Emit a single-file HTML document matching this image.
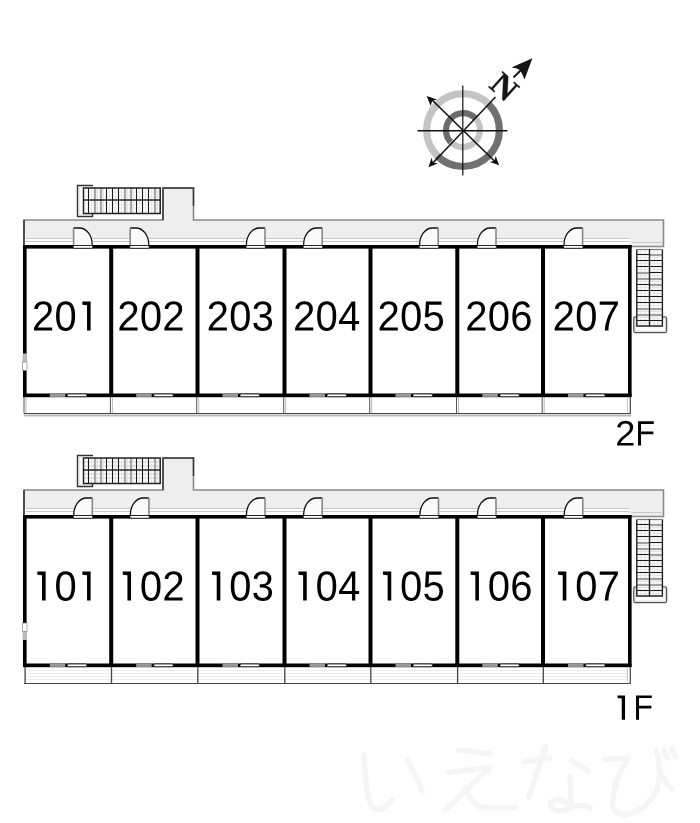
<!DOCTYPE html>
<html><head><meta charset="utf-8"><style>
html,body{margin:0;padding:0;background:#fff;}
body{width:700px;height:823px;overflow:hidden;}
svg{display:block;}
body{font-family:"Liberation Sans",sans-serif;}
</style></head><body>
<svg width="700" height="823" viewBox="0 0 700 823">
<defs><path id="g0" d="M1059 705Q1059 352 934.5 166.0Q810 -20 567 -20Q324 -20 202.0 165.0Q80 350 80 705Q80 1068 198.5 1249.0Q317 1430 573 1430Q822 1430 940.5 1247.0Q1059 1064 1059 705ZM876 705Q876 1010 805.5 1147.0Q735 1284 573 1284Q407 1284 334.5 1149.0Q262 1014 262 705Q262 405 335.5 266.0Q409 127 569 127Q728 127 802.0 269.0Q876 411 876 705Z"/><path id="g2" d="M103 0V127Q154 244 227.5 333.5Q301 423 382.0 495.5Q463 568 542.5 630.0Q622 692 686.0 754.0Q750 816 789.5 884.0Q829 952 829 1038Q829 1154 761.0 1218.0Q693 1282 572 1282Q457 1282 382.5 1219.5Q308 1157 295 1044L111 1061Q131 1230 254.5 1330.0Q378 1430 572 1430Q785 1430 899.5 1329.5Q1014 1229 1014 1044Q1014 962 976.5 881.0Q939 800 865.0 719.0Q791 638 582 468Q467 374 399.0 298.5Q331 223 301 153H1036V0Z"/><path id="g3" d="M1049 389Q1049 194 925.0 87.0Q801 -20 571 -20Q357 -20 229.5 76.5Q102 173 78 362L264 379Q300 129 571 129Q707 129 784.5 196.0Q862 263 862 395Q862 510 773.5 574.5Q685 639 518 639H416V795H514Q662 795 743.5 859.5Q825 924 825 1038Q825 1151 758.5 1216.5Q692 1282 561 1282Q442 1282 368.5 1221.0Q295 1160 283 1049L102 1063Q122 1236 245.5 1333.0Q369 1430 563 1430Q775 1430 892.5 1331.5Q1010 1233 1010 1057Q1010 922 934.5 837.5Q859 753 715 723V719Q873 702 961.0 613.0Q1049 524 1049 389Z"/><path id="g4" d="M881 319V0H711V319H47V459L692 1409H881V461H1079V319ZM711 1206Q709 1200 683.0 1153.0Q657 1106 644 1087L283 555L229 481L213 461H711Z"/><path id="g5" d="M1053 459Q1053 236 920.5 108.0Q788 -20 553 -20Q356 -20 235.0 66.0Q114 152 82 315L264 336Q321 127 557 127Q702 127 784.0 214.5Q866 302 866 455Q866 588 783.5 670.0Q701 752 561 752Q488 752 425.0 729.0Q362 706 299 651H123L170 1409H971V1256H334L307 809Q424 899 598 899Q806 899 929.5 777.0Q1053 655 1053 459Z"/><path id="g6" d="M1049 461Q1049 238 928.0 109.0Q807 -20 594 -20Q356 -20 230.0 157.0Q104 334 104 672Q104 1038 235.0 1234.0Q366 1430 608 1430Q927 1430 1010 1143L838 1112Q785 1284 606 1284Q452 1284 367.5 1140.5Q283 997 283 725Q332 816 421.0 863.5Q510 911 625 911Q820 911 934.5 789.0Q1049 667 1049 461ZM866 453Q866 606 791.0 689.0Q716 772 582 772Q456 772 378.5 698.5Q301 625 301 496Q301 333 381.5 229.0Q462 125 588 125Q718 125 792.0 212.5Q866 300 866 453Z"/><path id="g7" d="M1036 1263Q820 933 731.0 746.0Q642 559 597.5 377.0Q553 195 553 0H365Q365 270 479.5 568.5Q594 867 862 1256H105V1409H1036Z"/><path id="gF" d="M359 1253V810H1145V650H359V0H168V1409H1169V1253Z"/><path id="g1" d="M515 0V1235L275 1255V1409H700V0Z"/></defs>
<rect width="700" height="823" fill="#fff"/>
<path d="M24 220 H163 V188 H193 V220 H663.5 V246.5 H24 Z" fill="#eeeeee"/>
<rect x="25" y="238" width="604" height="7" fill="#fff"/>
<path d="M24 246 V220 H163 V188 H193.5 V220 H663.5 V246.5 H630" fill="none" stroke="#8a8a8a" stroke-width="1.6"/>
<path d="M24 246 V220" stroke="#222" stroke-width="1.3"/>
<path d="M163 220 V188 H193.5 V206" fill="none" stroke="#3a3a3a" stroke-width="1.5"/>
<path d="M26 238.5 H629 M26 241.5 H629" stroke="#c8c8c8" stroke-width="1"/>
<path d="M93 185.5 H77.5 V216.5 H92.5 V213.5" fill="none" stroke="#333" stroke-width="1.4"/>
<path d="M92 187 H79 V215 H91" fill="none" stroke="#d0d0d0" stroke-width="0.9"/>
<rect x="83.5" y="188" width="76.7" height="25.5" fill="#fff"/>
<path d="M84.5 192 H159.5" stroke="#eeeeee" stroke-width="1"/>
<path d="M84.5 196 H159.5" stroke="#eeeeee" stroke-width="1"/>
<path d="M84.5 204 H159.5" stroke="#eeeeee" stroke-width="1"/>
<path d="M84.5 208 H159.5" stroke="#eeeeee" stroke-width="1"/>
<path d="M91.5 188 V213.5" stroke="#e6e6e6" stroke-width="1"/>
<path d="M88.5 188 V213.5" stroke="#1a1a1a" stroke-width="1.1"/>
<path d="M97.5 188 V213.5" stroke="#e6e6e6" stroke-width="1"/>
<path d="M95.0 188 V213.5" stroke="#a8a8a8" stroke-width="2.4"/>
<path d="M103.5 188 V213.5" stroke="#e6e6e6" stroke-width="1"/>
<path d="M101.0 188 V213.5" stroke="#a8a8a8" stroke-width="2.4"/>
<path d="M109.5 188 V213.5" stroke="#e6e6e6" stroke-width="1"/>
<path d="M106.5 188 V213.5" stroke="#1a1a1a" stroke-width="1.1"/>
<path d="M115.5 188 V213.5" stroke="#e6e6e6" stroke-width="1"/>
<path d="M112.5 188 V213.5" stroke="#1a1a1a" stroke-width="1.1"/>
<path d="M121.5 188 V213.5" stroke="#e6e6e6" stroke-width="1"/>
<path d="M118.5 188 V213.5" stroke="#1a1a1a" stroke-width="1.1"/>
<path d="M127.5 188 V213.5" stroke="#e6e6e6" stroke-width="1"/>
<path d="M125.0 188 V213.5" stroke="#a8a8a8" stroke-width="2.4"/>
<path d="M133.5 188 V213.5" stroke="#e6e6e6" stroke-width="1"/>
<path d="M131.0 188 V213.5" stroke="#a8a8a8" stroke-width="2.4"/>
<path d="M139.5 188 V213.5" stroke="#e6e6e6" stroke-width="1"/>
<path d="M136.5 188 V213.5" stroke="#1a1a1a" stroke-width="1.1"/>
<path d="M145.5 188 V213.5" stroke="#e6e6e6" stroke-width="1"/>
<path d="M142.5 188 V213.5" stroke="#1a1a1a" stroke-width="1.1"/>
<path d="M151.5 188 V213.5" stroke="#e6e6e6" stroke-width="1"/>
<path d="M148.5 188 V213.5" stroke="#1a1a1a" stroke-width="1.1"/>
<path d="M157.5 188 V213.5" stroke="#e6e6e6" stroke-width="1"/>
<path d="M155.0 188 V213.5" stroke="#a8a8a8" stroke-width="2.4"/>
<rect x="83.5" y="188" width="76.7" height="25.5" fill="none" stroke="#222" stroke-width="1.5"/>
<path d="M83.5 200 H160.5" stroke="#222" stroke-width="1.6"/>
<rect x="24" y="245" width="606" height="152" fill="#fff"/>
<rect x="23" y="245" width="608.5" height="3.6" fill="#000"/>
<rect x="23" y="393.5" width="608.5" height="3.7" fill="#000"/>
<rect x="23.0" y="245" width="3.6" height="152" fill="#000"/>
<rect x="109.2" y="245" width="4.0" height="152" fill="#000"/>
<rect x="195.5" y="245" width="4.0" height="152" fill="#000"/>
<rect x="282.5" y="245" width="4.0" height="152" fill="#000"/>
<rect x="368.5" y="245" width="4.0" height="152" fill="#000"/>
<rect x="455.3" y="245" width="4.0" height="152" fill="#000"/>
<rect x="541.0" y="245" width="4.0" height="152" fill="#000"/>
<rect x="628.0" y="245" width="3.6" height="152" fill="#000"/>
<rect x="22.6" y="353.5" width="4.4" height="8.5" fill="#bbb"/>
<rect x="22.6" y="362" width="4.4" height="8.5" fill="#fff" stroke="#777" stroke-width=".6"/>
<rect x="73.3" y="245.5" width="19.2" height="2.8" rx="0.8" fill="#fff" stroke="#1a1a1a" stroke-width=".9"/>
<path d="M73.6 228.0 H79.4 A12.8 17.0 0 0 1 92.2 245 L73.6 245 Z" fill="#fafafa"/>
<path d="M73.6 228.0 H79.4 A12.8 17.0 0 0 1 92.2 245" fill="none" stroke="#111" stroke-width="1.3"/>
<path d="M73.6 245 V228.0" stroke="#888" stroke-width="1.6"/>
<rect x="49.8" y="393.8" width="15.5" height="3.1" fill="#999"/>
<rect x="67.3" y="394.0" width="19.5" height="2.7" rx="1.3" fill="#fff" stroke="#111" stroke-width=".8"/>
<path d="M24.0 397 V413.5" stroke="#555" stroke-width="1"/>
<path d="M26.0 397 V413" stroke="#bbb" stroke-width="1"/>
<rect x="129.9" y="245.5" width="19.2" height="2.8" rx="0.8" fill="#fff" stroke="#1a1a1a" stroke-width=".9"/>
<path d="M130.2 228.0 H136.0 A12.8 17.0 0 0 1 148.8 245 L130.2 245 Z" fill="#fafafa"/>
<path d="M130.2 228.0 H136.0 A12.8 17.0 0 0 1 148.8 245" fill="none" stroke="#111" stroke-width="1.3"/>
<path d="M130.2 245 V228.0" stroke="#888" stroke-width="1.6"/>
<rect x="136.2" y="393.8" width="15.5" height="3.1" fill="#999"/>
<rect x="153.7" y="394.0" width="19.5" height="2.7" rx="1.3" fill="#fff" stroke="#111" stroke-width=".8"/>
<path d="M110.4 397 V413.5" stroke="#555" stroke-width="1"/>
<path d="M112.4 397 V413" stroke="#bbb" stroke-width="1"/>
<rect x="246.1" y="245.5" width="19.2" height="2.8" rx="0.8" fill="#fff" stroke="#1a1a1a" stroke-width=".9"/>
<path d="M265.0 228.0 H259.2 A12.8 17.0 0 0 0 246.4 245 L265.0 245 Z" fill="#fafafa"/>
<path d="M265.0 228.0 H259.2 A12.8 17.0 0 0 0 246.4 245" fill="none" stroke="#111" stroke-width="1.3"/>
<path d="M265.0 245 V228.0" stroke="#888" stroke-width="1.6"/>
<rect x="222.5" y="393.8" width="15.5" height="3.1" fill="#999"/>
<rect x="240.0" y="394.0" width="19.5" height="2.7" rx="1.3" fill="#fff" stroke="#111" stroke-width=".8"/>
<path d="M196.7 397 V413.5" stroke="#555" stroke-width="1"/>
<path d="M198.7 397 V413" stroke="#bbb" stroke-width="1"/>
<rect x="303.3" y="245.5" width="19.2" height="2.8" rx="0.8" fill="#fff" stroke="#1a1a1a" stroke-width=".9"/>
<path d="M322.2 228.0 H316.4 A12.8 17.0 0 0 0 303.6 245 L322.2 245 Z" fill="#fafafa"/>
<path d="M322.2 228.0 H316.4 A12.8 17.0 0 0 0 303.6 245" fill="none" stroke="#111" stroke-width="1.3"/>
<path d="M322.2 245 V228.0" stroke="#888" stroke-width="1.6"/>
<rect x="309.5" y="393.8" width="15.5" height="3.1" fill="#999"/>
<rect x="327.0" y="394.0" width="19.5" height="2.7" rx="1.3" fill="#fff" stroke="#111" stroke-width=".8"/>
<path d="M283.7 397 V413.5" stroke="#555" stroke-width="1"/>
<path d="M285.7 397 V413" stroke="#bbb" stroke-width="1"/>
<rect x="419.3" y="245.5" width="19.2" height="2.8" rx="0.8" fill="#fff" stroke="#1a1a1a" stroke-width=".9"/>
<path d="M438.2 228.0 H432.4 A12.8 17.0 0 0 0 419.6 245 L438.2 245 Z" fill="#fafafa"/>
<path d="M438.2 228.0 H432.4 A12.8 17.0 0 0 0 419.6 245" fill="none" stroke="#111" stroke-width="1.3"/>
<path d="M438.2 245 V228.0" stroke="#888" stroke-width="1.6"/>
<rect x="395.5" y="393.8" width="15.5" height="3.1" fill="#999"/>
<rect x="413.0" y="394.0" width="19.5" height="2.7" rx="1.3" fill="#fff" stroke="#111" stroke-width=".8"/>
<path d="M369.7 397 V413.5" stroke="#555" stroke-width="1"/>
<path d="M371.7 397 V413" stroke="#bbb" stroke-width="1"/>
<rect x="477.1" y="245.5" width="19.2" height="2.8" rx="0.8" fill="#fff" stroke="#1a1a1a" stroke-width=".9"/>
<path d="M496.0 228.0 H490.2 A12.8 17.0 0 0 0 477.4 245 L496.0 245 Z" fill="#fafafa"/>
<path d="M496.0 228.0 H490.2 A12.8 17.0 0 0 0 477.4 245" fill="none" stroke="#111" stroke-width="1.3"/>
<path d="M496.0 245 V228.0" stroke="#888" stroke-width="1.6"/>
<rect x="482.3" y="393.8" width="15.5" height="3.1" fill="#999"/>
<rect x="499.8" y="394.0" width="19.5" height="2.7" rx="1.3" fill="#fff" stroke="#111" stroke-width=".8"/>
<path d="M456.5 397 V413.5" stroke="#555" stroke-width="1"/>
<path d="M458.5 397 V413" stroke="#bbb" stroke-width="1"/>
<rect x="563.7" y="245.5" width="19.2" height="2.8" rx="0.8" fill="#fff" stroke="#1a1a1a" stroke-width=".9"/>
<path d="M582.6 228.0 H576.8 A12.8 17.0 0 0 0 564.0 245 L582.6 245 Z" fill="#fafafa"/>
<path d="M582.6 228.0 H576.8 A12.8 17.0 0 0 0 564.0 245" fill="none" stroke="#111" stroke-width="1.3"/>
<path d="M582.6 245 V228.0" stroke="#888" stroke-width="1.6"/>
<rect x="568.0" y="393.8" width="15.5" height="3.1" fill="#999"/>
<rect x="585.5" y="394.0" width="19.5" height="2.7" rx="1.3" fill="#fff" stroke="#111" stroke-width=".8"/>
<path d="M542.2 397 V413.5" stroke="#555" stroke-width="1"/>
<path d="M544.2 397 V413" stroke="#bbb" stroke-width="1"/>
<path d="M630.3 397 V413.8" stroke="#333" stroke-width="1.1"/>
<path d="M627.3 397 V412.5" stroke="#c8c8c8" stroke-width="1"/>
<path d="M24 413.5 H630.8" stroke="#474747" stroke-width="1.2"/>
<path d="M24 415.5 H631" stroke="#b8b8b8" stroke-width="2"/>
<rect x="633.8" y="316.8" width="32.8" height="15.8" rx="1.5" fill="#fff" stroke="#555" stroke-width="1.3"/>
<rect x="635.2" y="318.2" width="30" height="13" fill="none" stroke="#ccc" stroke-width=".8"/>
<path d="M631.5 242.5 H663" stroke="#c8c8c8" stroke-width="1"/>
<rect x="636.8" y="249.5" width="25.6" height="76.5" fill="#fff"/>
<path d="M641 250 V325.5" stroke="#e2e2e2" stroke-width="1"/>
<path d="M645 250 V325.5" stroke="#e2e2e2" stroke-width="1"/>
<path d="M654 250 V325.5" stroke="#e2e2e2" stroke-width="1"/>
<path d="M658 250 V325.5" stroke="#e2e2e2" stroke-width="1"/>
<path d="M637 257.5 H662" stroke="#e4e4e4" stroke-width="1"/>
<path d="M636.8 254.5 H649.5" stroke="#1a1a1a" stroke-width="1.1"/>
<path d="M649.5 255.0 H662.4" stroke="#a0a0a0" stroke-width="2.2"/>
<path d="M637 263.5 H662" stroke="#e4e4e4" stroke-width="1"/>
<path d="M636.8 260.5 H649.5" stroke="#1a1a1a" stroke-width="1.1"/>
<path d="M649.5 260.5 H662.4" stroke="#1a1a1a" stroke-width="1.1"/>
<path d="M637 269.5 H662" stroke="#e4e4e4" stroke-width="1"/>
<path d="M636.8 266.5 H649.5" stroke="#1a1a1a" stroke-width="1.1"/>
<path d="M649.5 266.5 H662.4" stroke="#1a1a1a" stroke-width="1.1"/>
<path d="M637 275.5 H662" stroke="#e4e4e4" stroke-width="1"/>
<path d="M636.8 273.0 H649.5" stroke="#a0a0a0" stroke-width="2.2"/>
<path d="M649.5 272.5 H662.4" stroke="#1a1a1a" stroke-width="1.1"/>
<path d="M637 281.5 H662" stroke="#e4e4e4" stroke-width="1"/>
<path d="M636.8 279.0 H649.5" stroke="#a0a0a0" stroke-width="2.2"/>
<path d="M649.5 279.0 H662.4" stroke="#a0a0a0" stroke-width="2.2"/>
<path d="M637 287.5 H662" stroke="#e4e4e4" stroke-width="1"/>
<path d="M636.8 284.5 H649.5" stroke="#1a1a1a" stroke-width="1.1"/>
<path d="M649.5 285.0 H662.4" stroke="#a0a0a0" stroke-width="2.2"/>
<path d="M637 293.5 H662" stroke="#e4e4e4" stroke-width="1"/>
<path d="M636.8 290.5 H649.5" stroke="#1a1a1a" stroke-width="1.1"/>
<path d="M649.5 290.5 H662.4" stroke="#1a1a1a" stroke-width="1.1"/>
<path d="M637 299.5 H662" stroke="#e4e4e4" stroke-width="1"/>
<path d="M636.8 296.5 H649.5" stroke="#1a1a1a" stroke-width="1.1"/>
<path d="M649.5 296.5 H662.4" stroke="#1a1a1a" stroke-width="1.1"/>
<path d="M637 305.5 H662" stroke="#e4e4e4" stroke-width="1"/>
<path d="M636.8 302.5 H649.5" stroke="#1a1a1a" stroke-width="1.1"/>
<path d="M649.5 302.5 H662.4" stroke="#1a1a1a" stroke-width="1.1"/>
<path d="M637 311.5 H662" stroke="#e4e4e4" stroke-width="1"/>
<path d="M636.8 309.0 H649.5" stroke="#a0a0a0" stroke-width="2.2"/>
<path d="M649.5 309.0 H662.4" stroke="#a0a0a0" stroke-width="2.2"/>
<path d="M637 317.5 H662" stroke="#e4e4e4" stroke-width="1"/>
<path d="M636.8 315.0 H649.5" stroke="#a0a0a0" stroke-width="2.2"/>
<path d="M649.5 315.0 H662.4" stroke="#a0a0a0" stroke-width="2.2"/>
<path d="M637 323.5 H662" stroke="#e4e4e4" stroke-width="1"/>
<path d="M636.8 320.5 H649.5" stroke="#1a1a1a" stroke-width="1.1"/>
<path d="M649.5 320.5 H662.4" stroke="#1a1a1a" stroke-width="1.1"/>
<path d="M636.8 249.5 V326 H662.4 V249.5" fill="none" stroke="#222" stroke-width="1.4"/>
<path d="M636.8 249.5 H662.4" stroke="#777" stroke-width="1.2"/>
<path d="M649.5 249 V326.2" stroke="#222" stroke-width="1.4"/>
<use href="#g2" transform="translate(31.99 330.6) scale(0.0195 -0.0206)"/><use href="#g0" transform="translate(54.49 330.6) scale(0.0195 -0.0206)"/><use href="#g1" transform="translate(76.99 330.6) scale(0.0195 -0.0206)"/>
<use href="#g2" transform="translate(117.39 330.6) scale(0.0195 -0.0206)"/><use href="#g0" transform="translate(139.89 330.6) scale(0.0195 -0.0206)"/><use href="#g2" transform="translate(162.39 330.6) scale(0.0195 -0.0206)"/>
<use href="#g2" transform="translate(206.69 330.6) scale(0.0195 -0.0206)"/><use href="#g0" transform="translate(229.19 330.6) scale(0.0195 -0.0206)"/><use href="#g3" transform="translate(251.69 330.6) scale(0.0195 -0.0206)"/>
<use href="#g2" transform="translate(293.09 330.6) scale(0.0195 -0.0206)"/><use href="#g0" transform="translate(315.59 330.6) scale(0.0195 -0.0206)"/><use href="#g4" transform="translate(338.09 330.6) scale(0.0195 -0.0206)"/>
<use href="#g2" transform="translate(377.59 330.6) scale(0.0195 -0.0206)"/><use href="#g0" transform="translate(400.09 330.6) scale(0.0195 -0.0206)"/><use href="#g5" transform="translate(422.59 330.6) scale(0.0195 -0.0206)"/>
<use href="#g2" transform="translate(465.29 330.6) scale(0.0195 -0.0206)"/><use href="#g0" transform="translate(487.79 330.6) scale(0.0195 -0.0206)"/><use href="#g6" transform="translate(510.29 330.6) scale(0.0195 -0.0206)"/>
<use href="#g2" transform="translate(552.69 330.6) scale(0.0195 -0.0206)"/><use href="#g0" transform="translate(575.19 330.6) scale(0.0195 -0.0206)"/><use href="#g7" transform="translate(597.69 330.6) scale(0.0195 -0.0206)"/>
<use href="#g2" transform="translate(615.30 445.6) scale(0.0176 -0.0173)"/><use href="#gF" transform="translate(635.40 445.6) scale(0.0157 -0.0173)"/>
<path d="M24 490 H163 V458 H193 V490 H663.5 V516.5 H24 Z" fill="#eeeeee"/>
<rect x="25" y="508" width="604" height="7" fill="#fff"/>
<path d="M24 516 V490 H163 V458 H193.5 V490 H663.5 V516.5 H630" fill="none" stroke="#8a8a8a" stroke-width="1.6"/>
<path d="M24 516 V490" stroke="#222" stroke-width="1.3"/>
<path d="M163 490 V458 H193.5 V476" fill="none" stroke="#3a3a3a" stroke-width="1.5"/>
<path d="M26 508.5 H629 M26 511.5 H629" stroke="#c8c8c8" stroke-width="1"/>
<path d="M93 455.5 H77.5 V486.5 H92.5 V483.5" fill="none" stroke="#333" stroke-width="1.4"/>
<path d="M92 457 H79 V485 H91" fill="none" stroke="#d0d0d0" stroke-width="0.9"/>
<rect x="83.5" y="458" width="76.7" height="25.5" fill="#fff"/>
<path d="M84.5 462 H159.5" stroke="#cfcfcf" stroke-width="1"/>
<path d="M84.5 466 H159.5" stroke="#cfcfcf" stroke-width="1"/>
<path d="M84.5 474 H159.5" stroke="#cfcfcf" stroke-width="1"/>
<path d="M84.5 478 H159.5" stroke="#cfcfcf" stroke-width="1"/>
<path d="M91.5 458 V483.5" stroke="#e6e6e6" stroke-width="1"/>
<path d="M88.5 458 V483.5" stroke="#1a1a1a" stroke-width="1.1"/>
<path d="M97.5 458 V483.5" stroke="#e6e6e6" stroke-width="1"/>
<path d="M95.0 458 V483.5" stroke="#a8a8a8" stroke-width="2.4"/>
<path d="M103.5 458 V483.5" stroke="#e6e6e6" stroke-width="1"/>
<path d="M101.0 458 V483.5" stroke="#a8a8a8" stroke-width="2.4"/>
<path d="M109.5 458 V483.5" stroke="#e6e6e6" stroke-width="1"/>
<path d="M106.5 458 V483.5" stroke="#1a1a1a" stroke-width="1.1"/>
<path d="M115.5 458 V483.5" stroke="#e6e6e6" stroke-width="1"/>
<path d="M112.5 458 V483.5" stroke="#1a1a1a" stroke-width="1.1"/>
<path d="M121.5 458 V483.5" stroke="#e6e6e6" stroke-width="1"/>
<path d="M118.5 458 V483.5" stroke="#1a1a1a" stroke-width="1.1"/>
<path d="M127.5 458 V483.5" stroke="#e6e6e6" stroke-width="1"/>
<path d="M125.0 458 V483.5" stroke="#a8a8a8" stroke-width="2.4"/>
<path d="M133.5 458 V483.5" stroke="#e6e6e6" stroke-width="1"/>
<path d="M131.0 458 V483.5" stroke="#a8a8a8" stroke-width="2.4"/>
<path d="M139.5 458 V483.5" stroke="#e6e6e6" stroke-width="1"/>
<path d="M136.5 458 V483.5" stroke="#1a1a1a" stroke-width="1.1"/>
<path d="M145.5 458 V483.5" stroke="#e6e6e6" stroke-width="1"/>
<path d="M142.5 458 V483.5" stroke="#1a1a1a" stroke-width="1.1"/>
<path d="M151.5 458 V483.5" stroke="#e6e6e6" stroke-width="1"/>
<path d="M148.5 458 V483.5" stroke="#1a1a1a" stroke-width="1.1"/>
<path d="M157.5 458 V483.5" stroke="#e6e6e6" stroke-width="1"/>
<path d="M155.0 458 V483.5" stroke="#a8a8a8" stroke-width="2.4"/>
<rect x="83.5" y="458" width="76.7" height="25.5" fill="none" stroke="#222" stroke-width="1.5"/>
<path d="M83.5 470 H160.5" stroke="#222" stroke-width="1.6"/>
<path d="M26 670.5 H628 M26 673.5 H628 M26 676.5 H628 M26 679.5 H628" stroke="#ebebeb" stroke-width="1"/>
<rect x="24" y="515" width="606" height="152" fill="#fff"/>
<rect x="23" y="515" width="608.5" height="3.6" fill="#000"/>
<rect x="23" y="663.5" width="608.5" height="3.7" fill="#000"/>
<rect x="23.0" y="515" width="3.6" height="152" fill="#000"/>
<rect x="109.2" y="515" width="4.0" height="152" fill="#000"/>
<rect x="195.5" y="515" width="4.0" height="152" fill="#000"/>
<rect x="282.5" y="515" width="4.0" height="152" fill="#000"/>
<rect x="368.5" y="515" width="4.0" height="152" fill="#000"/>
<rect x="455.3" y="515" width="4.0" height="152" fill="#000"/>
<rect x="541.0" y="515" width="4.0" height="152" fill="#000"/>
<rect x="628.0" y="515" width="3.6" height="152" fill="#000"/>
<rect x="22.6" y="623" width="4.4" height="8.5" fill="#fff" stroke="#777" stroke-width=".6"/>
<rect x="22.6" y="631.5" width="4.4" height="8.5" fill="#bbb"/>
<rect x="73.4" y="515.5" width="19.2" height="2.8" rx="0.8" fill="#fff" stroke="#1a1a1a" stroke-width=".9"/>
<path d="M92.3 498.0 H86.5 A12.8 17.0 0 0 0 73.7 515 L92.3 515 Z" fill="#fafafa"/>
<path d="M92.3 498.0 H86.5 A12.8 17.0 0 0 0 73.7 515" fill="none" stroke="#111" stroke-width="1.3"/>
<path d="M92.3 515 V498.0" stroke="#888" stroke-width="1.6"/>
<rect x="49.8" y="663.8" width="15.5" height="3.1" fill="#999"/>
<rect x="67.3" y="664.0" width="19.5" height="2.7" rx="1.3" fill="#fff" stroke="#111" stroke-width=".8"/>
<path d="M25.1 667 V683.5" stroke="#444" stroke-width="1.3"/>
<rect x="130.0" y="515.5" width="19.2" height="2.8" rx="0.8" fill="#fff" stroke="#1a1a1a" stroke-width=".9"/>
<path d="M148.9 498.0 H143.1 A12.8 17.0 0 0 0 130.3 515 L148.9 515 Z" fill="#fafafa"/>
<path d="M148.9 498.0 H143.1 A12.8 17.0 0 0 0 130.3 515" fill="none" stroke="#111" stroke-width="1.3"/>
<path d="M148.9 515 V498.0" stroke="#888" stroke-width="1.6"/>
<rect x="136.2" y="663.8" width="15.5" height="3.1" fill="#999"/>
<rect x="153.7" y="664.0" width="19.5" height="2.7" rx="1.3" fill="#fff" stroke="#111" stroke-width=".8"/>
<path d="M111.5 667 V683.5" stroke="#444" stroke-width="1.3"/>
<rect x="246.1" y="515.5" width="19.2" height="2.8" rx="0.8" fill="#fff" stroke="#1a1a1a" stroke-width=".9"/>
<path d="M265.0 498.0 H259.2 A12.8 17.0 0 0 0 246.4 515 L265.0 515 Z" fill="#fafafa"/>
<path d="M265.0 498.0 H259.2 A12.8 17.0 0 0 0 246.4 515" fill="none" stroke="#111" stroke-width="1.3"/>
<path d="M265.0 515 V498.0" stroke="#888" stroke-width="1.6"/>
<rect x="222.5" y="663.8" width="15.5" height="3.1" fill="#999"/>
<rect x="240.0" y="664.0" width="19.5" height="2.7" rx="1.3" fill="#fff" stroke="#111" stroke-width=".8"/>
<path d="M197.8 667 V683.5" stroke="#444" stroke-width="1.3"/>
<rect x="303.3" y="515.5" width="19.2" height="2.8" rx="0.8" fill="#fff" stroke="#1a1a1a" stroke-width=".9"/>
<path d="M322.2 498.0 H316.4 A12.8 17.0 0 0 0 303.6 515 L322.2 515 Z" fill="#fafafa"/>
<path d="M322.2 498.0 H316.4 A12.8 17.0 0 0 0 303.6 515" fill="none" stroke="#111" stroke-width="1.3"/>
<path d="M322.2 515 V498.0" stroke="#888" stroke-width="1.6"/>
<rect x="309.5" y="663.8" width="15.5" height="3.1" fill="#999"/>
<rect x="327.0" y="664.0" width="19.5" height="2.7" rx="1.3" fill="#fff" stroke="#111" stroke-width=".8"/>
<path d="M284.8 667 V683.5" stroke="#444" stroke-width="1.3"/>
<rect x="419.6" y="515.5" width="19.2" height="2.8" rx="0.8" fill="#fff" stroke="#1a1a1a" stroke-width=".9"/>
<path d="M438.5 498.0 H432.7 A12.8 17.0 0 0 0 419.9 515 L438.5 515 Z" fill="#fafafa"/>
<path d="M438.5 498.0 H432.7 A12.8 17.0 0 0 0 419.9 515" fill="none" stroke="#111" stroke-width="1.3"/>
<path d="M438.5 515 V498.0" stroke="#888" stroke-width="1.6"/>
<rect x="395.5" y="663.8" width="15.5" height="3.1" fill="#999"/>
<rect x="413.0" y="664.0" width="19.5" height="2.7" rx="1.3" fill="#fff" stroke="#111" stroke-width=".8"/>
<path d="M370.8 667 V683.5" stroke="#444" stroke-width="1.3"/>
<rect x="477.1" y="515.5" width="19.2" height="2.8" rx="0.8" fill="#fff" stroke="#1a1a1a" stroke-width=".9"/>
<path d="M496.0 498.0 H490.2 A12.8 17.0 0 0 0 477.4 515 L496.0 515 Z" fill="#fafafa"/>
<path d="M496.0 498.0 H490.2 A12.8 17.0 0 0 0 477.4 515" fill="none" stroke="#111" stroke-width="1.3"/>
<path d="M496.0 515 V498.0" stroke="#888" stroke-width="1.6"/>
<rect x="482.3" y="663.8" width="15.5" height="3.1" fill="#999"/>
<rect x="499.8" y="664.0" width="19.5" height="2.7" rx="1.3" fill="#fff" stroke="#111" stroke-width=".8"/>
<path d="M457.6 667 V683.5" stroke="#444" stroke-width="1.3"/>
<rect x="563.9" y="515.5" width="19.2" height="2.8" rx="0.8" fill="#fff" stroke="#1a1a1a" stroke-width=".9"/>
<path d="M582.8 498.0 H577.0 A12.8 17.0 0 0 0 564.2 515 L582.8 515 Z" fill="#fafafa"/>
<path d="M582.8 498.0 H577.0 A12.8 17.0 0 0 0 564.2 515" fill="none" stroke="#111" stroke-width="1.3"/>
<path d="M582.8 515 V498.0" stroke="#888" stroke-width="1.6"/>
<rect x="568.0" y="663.8" width="15.5" height="3.1" fill="#999"/>
<rect x="585.5" y="664.0" width="19.5" height="2.7" rx="1.3" fill="#fff" stroke="#111" stroke-width=".8"/>
<path d="M543.3 667 V683.5" stroke="#444" stroke-width="1.3"/>
<path d="M630.3 667 V683.8" stroke="#333" stroke-width="1.1"/>
<path d="M627.3 667 V682.5" stroke="#c8c8c8" stroke-width="1"/>
<path d="M24 683.5 H630.8" stroke="#474747" stroke-width="1.2"/>
<rect x="633.8" y="586.8" width="32.8" height="15.8" rx="1.5" fill="#fff" stroke="#555" stroke-width="1.3"/>
<rect x="635.2" y="588.2" width="30" height="13" fill="none" stroke="#ccc" stroke-width=".8"/>
<path d="M631.5 512.5 H663" stroke="#c8c8c8" stroke-width="1"/>
<rect x="636.8" y="519.5" width="25.6" height="76.5" fill="#fff"/>
<path d="M641 520 V595.5" stroke="#e2e2e2" stroke-width="1"/>
<path d="M645 520 V595.5" stroke="#e2e2e2" stroke-width="1"/>
<path d="M654 520 V595.5" stroke="#e2e2e2" stroke-width="1"/>
<path d="M658 520 V595.5" stroke="#e2e2e2" stroke-width="1"/>
<path d="M637 527.5 H662" stroke="#e4e4e4" stroke-width="1"/>
<path d="M636.8 524.5 H649.5" stroke="#1a1a1a" stroke-width="1.1"/>
<path d="M649.5 525.0 H662.4" stroke="#a0a0a0" stroke-width="2.2"/>
<path d="M637 533.5 H662" stroke="#e4e4e4" stroke-width="1"/>
<path d="M636.8 530.5 H649.5" stroke="#1a1a1a" stroke-width="1.1"/>
<path d="M649.5 530.5 H662.4" stroke="#1a1a1a" stroke-width="1.1"/>
<path d="M637 539.5 H662" stroke="#e4e4e4" stroke-width="1"/>
<path d="M636.8 536.5 H649.5" stroke="#1a1a1a" stroke-width="1.1"/>
<path d="M649.5 536.5 H662.4" stroke="#1a1a1a" stroke-width="1.1"/>
<path d="M637 545.5 H662" stroke="#e4e4e4" stroke-width="1"/>
<path d="M636.8 543.0 H649.5" stroke="#a0a0a0" stroke-width="2.2"/>
<path d="M649.5 542.5 H662.4" stroke="#1a1a1a" stroke-width="1.1"/>
<path d="M637 551.5 H662" stroke="#e4e4e4" stroke-width="1"/>
<path d="M636.8 549.0 H649.5" stroke="#a0a0a0" stroke-width="2.2"/>
<path d="M649.5 549.0 H662.4" stroke="#a0a0a0" stroke-width="2.2"/>
<path d="M637 557.5 H662" stroke="#e4e4e4" stroke-width="1"/>
<path d="M636.8 554.5 H649.5" stroke="#1a1a1a" stroke-width="1.1"/>
<path d="M649.5 555.0 H662.4" stroke="#a0a0a0" stroke-width="2.2"/>
<path d="M637 563.5 H662" stroke="#e4e4e4" stroke-width="1"/>
<path d="M636.8 560.5 H649.5" stroke="#1a1a1a" stroke-width="1.1"/>
<path d="M649.5 560.5 H662.4" stroke="#1a1a1a" stroke-width="1.1"/>
<path d="M637 569.5 H662" stroke="#e4e4e4" stroke-width="1"/>
<path d="M636.8 566.5 H649.5" stroke="#1a1a1a" stroke-width="1.1"/>
<path d="M649.5 566.5 H662.4" stroke="#1a1a1a" stroke-width="1.1"/>
<path d="M637 575.5 H662" stroke="#e4e4e4" stroke-width="1"/>
<path d="M636.8 572.5 H649.5" stroke="#1a1a1a" stroke-width="1.1"/>
<path d="M649.5 572.5 H662.4" stroke="#1a1a1a" stroke-width="1.1"/>
<path d="M637 581.5 H662" stroke="#e4e4e4" stroke-width="1"/>
<path d="M636.8 579.0 H649.5" stroke="#a0a0a0" stroke-width="2.2"/>
<path d="M649.5 579.0 H662.4" stroke="#a0a0a0" stroke-width="2.2"/>
<path d="M637 587.5 H662" stroke="#e4e4e4" stroke-width="1"/>
<path d="M636.8 585.0 H649.5" stroke="#a0a0a0" stroke-width="2.2"/>
<path d="M649.5 585.0 H662.4" stroke="#a0a0a0" stroke-width="2.2"/>
<path d="M637 593.5 H662" stroke="#e4e4e4" stroke-width="1"/>
<path d="M636.8 590.5 H649.5" stroke="#1a1a1a" stroke-width="1.1"/>
<path d="M649.5 590.5 H662.4" stroke="#1a1a1a" stroke-width="1.1"/>
<path d="M636.8 519.5 V596 H662.4 V519.5" fill="none" stroke="#222" stroke-width="1.4"/>
<path d="M636.8 519.5 H662.4" stroke="#777" stroke-width="1.2"/>
<path d="M649.5 519 V596.2" stroke="#222" stroke-width="1.4"/>
<use href="#g1" transform="translate(31.99 600.6) scale(0.0195 -0.0206)"/><use href="#g0" transform="translate(54.49 600.6) scale(0.0195 -0.0206)"/><use href="#g1" transform="translate(76.99 600.6) scale(0.0195 -0.0206)"/>
<use href="#g1" transform="translate(117.39 600.6) scale(0.0195 -0.0206)"/><use href="#g0" transform="translate(139.89 600.6) scale(0.0195 -0.0206)"/><use href="#g2" transform="translate(162.39 600.6) scale(0.0195 -0.0206)"/>
<use href="#g1" transform="translate(206.69 600.6) scale(0.0195 -0.0206)"/><use href="#g0" transform="translate(229.19 600.6) scale(0.0195 -0.0206)"/><use href="#g3" transform="translate(251.69 600.6) scale(0.0195 -0.0206)"/>
<use href="#g1" transform="translate(293.09 600.6) scale(0.0195 -0.0206)"/><use href="#g0" transform="translate(315.59 600.6) scale(0.0195 -0.0206)"/><use href="#g4" transform="translate(338.09 600.6) scale(0.0195 -0.0206)"/>
<use href="#g1" transform="translate(377.59 600.6) scale(0.0195 -0.0206)"/><use href="#g0" transform="translate(400.09 600.6) scale(0.0195 -0.0206)"/><use href="#g5" transform="translate(422.59 600.6) scale(0.0195 -0.0206)"/>
<use href="#g1" transform="translate(465.29 600.6) scale(0.0195 -0.0206)"/><use href="#g0" transform="translate(487.79 600.6) scale(0.0195 -0.0206)"/><use href="#g6" transform="translate(510.29 600.6) scale(0.0195 -0.0206)"/>
<use href="#g1" transform="translate(552.69 600.6) scale(0.0195 -0.0206)"/><use href="#g0" transform="translate(575.19 600.6) scale(0.0195 -0.0206)"/><use href="#g7" transform="translate(597.69 600.6) scale(0.0195 -0.0206)"/>
<use href="#g1" transform="translate(612.70 719.8) scale(0.0176 -0.0173)"/><use href="#gF" transform="translate(633.40 719.8) scale(0.0157 -0.0173)"/>
<g>
<path d="M488.74 104.36 A36.4 36.4 0 0 0 437.26 155.84" fill="none" stroke="#c4c4c4" stroke-width="7.200000000000003"/>
<path d="M437.26 155.84 A36.4 36.4 0 0 0 488.74 104.36" fill="none" stroke="#707070" stroke-width="7.200000000000003"/>
<path d="M475.16 117.94 A17.2 17.2 0 0 0 450.84 142.26" fill="none" stroke="#6c6c6c" stroke-width="6.200000000000001"/>
<path d="M450.84 142.26 A17.2 17.2 0 0 0 475.16 117.94" fill="none" stroke="#c4c4c4" stroke-width="6.200000000000001"/>
<path d="M462.8 85.5 V175.5" stroke="#111" stroke-width="1.2"/>
<path d="M417.5 130.8 H507.5" stroke="#111" stroke-width="1.6"/>
<path d="M429.5 97.5 L497 163.5" stroke="#111" stroke-width="1.6"/>
<path d="M430.5 165.5 L495.5 97" stroke="#111" stroke-width="1.5"/>
<path d="M513.5 77.5 L521 70" stroke="#111" stroke-width="1.8"/>
<path d="M426.60 95.90 L437.03 99.41 L432.06 101.04 L430.72 106.11 Z" fill="#111"/>
<path d="M499.20 165.20 L489.81 161.96 L494.53 160.68 L495.65 155.92 Z" fill="#111"/>
<path d="M428.50 167.20 L431.57 157.75 L432.93 162.45 L437.71 163.48 Z" fill="#111"/>
<path d="M532.4 58.3 L511.4 67.6 Q516.5 67.9 520 70 Q522.3 73.6 524.5 79.6 Z" fill="#151515"/>
<path d="M1155 1242 975 1268V1341H1452V1268L1280 1242V0H1163L336 1078V100L516 73V0H39V73L211 100V1242L39 1268V1341H498L1155 484Z" fill="#151515" stroke="#151515" stroke-width="22" transform="translate(504.2 87.0) rotate(42) scale(0.0168 -0.0158) translate(-745.5 -670.5)"/>
</g>
<g fill="none" stroke="#f5f5f5" stroke-width="5.5" stroke-linecap="round" stroke-linejoin="round"><path d="M363.8 755 C365 775 367 800 372 806 C376 812 384 810 392 800"/><path d="M407.5 760 C413 770 419 782 422.5 792.5"/><path d="M458.8 750 L490 753.8"/><path d="M448.8 772.5 L490 767.5 L445 810"/><path d="M465 787.5 C470 797 474 806 482 807.5 L515 807.5"/><path d="M523.9 762 L549.6 757.6"/><path d="M545.7 746.6 L529 796.7"/><path d="M571.4 760.7 L588.1 771"/><path d="M570 776 L571.4 807 C566 800 556 797 551 803 C548 810 560 813 568 809 C575 805 582 804 590 808"/><path d="M604.9 759.4 L628 758 C620 770 614 785 612.6 801.9 C612 811 618 815 625 814.7 C640 813 652 800 656.3 791.6 C660 780 661 765 656.3 750.4"/><path d="M659 770 C663 778 668 785 671.7 789"/><path d="M664 750.4 L667.9 758.1"/><path d="M671.7 749.1 L675.6 756.9"/></g>
</svg>
</body></html>
